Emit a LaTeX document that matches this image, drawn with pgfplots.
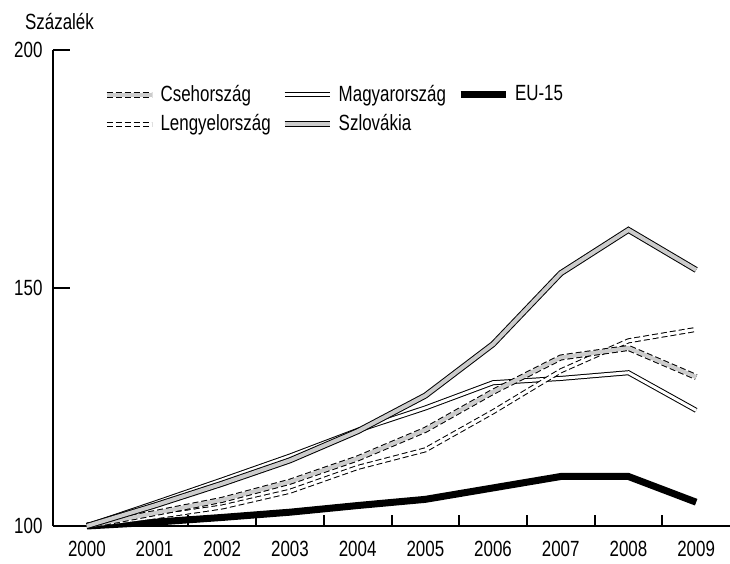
\documentclass[border=0pt]{standalone}
\usepackage{pgfplots}
\pgfplotsset{compat=1.18}
\usepackage{fontspec}
\setmainfont{Liberation Sans}[FakeStretch=0.77]
\definecolor{lgray}{HTML}{CCCCCC}
\begin{document}
\fontsize{22bp}{26bp}\selectfont
\begin{tikzpicture}
\path[use as bounding box] (-53bp,-38bp) rectangle (677bp,526bp);
\begin{axis}[
  at={(0bp,0bp)}, anchor=south west,
  scale only axis, width=677bp, height=476bp,
  xmin=1999.5, xmax=2009.5, ymin=100, ymax=200,
  axis lines=left, axis line style={line width=2bp, -},
  clip=false,
  tick align=inside,
  major tick length=17bp,
  minor tick length=11bp,
  every tick/.style={black, line width=2bp},
  ytick={100,150,200},
  xtick={2000,2001,2002,2003,2004,2005,2006,2007,2008,2009},
  major x tick style={draw=none},
  minor xtick={2000.5,2001.5,2002.5,2003.5,2004.5,2005.5,2006.5,2007.5,2008.5},
  minor x tick style={draw=black, line width=2bp},
  /pgf/number format/assume math mode=true,
  /pgf/number format/1000 sep={},
  xticklabel style={yshift=-8bp},
  yticklabel style={xshift=-3bp},
  legend columns=3,
  legend cell align=left,
  legend style={draw=none, fill=none, at={(axis cs:2000.2,193.5)}, anchor=north west,
    row sep=6bp,
    /tikz/every odd column/.append style={column sep=4bp},
    /tikz/every even column/.append style={column sep=9bp}},
]
\addlegendimage{legend image code/.code={
  \draw[black, line width=6bp, dash pattern=on 6bp off 3bp] (0bp,0bp) -- (45bp,0bp);
  \draw[lgray, line width=4bp] (0bp,0bp) -- (45bp,0bp);}}
\addlegendentry{Csehország}
\addlegendimage{legend image code/.code={
  \draw[black, line width=5bp] (0bp,0bp) -- (45bp,0bp);
  \draw[white, line width=3bp] (0bp,0bp) -- (45bp,0bp);}}
\addlegendentry{Magyarország}
\addlegendimage{legend image code/.code={
  \draw[black, line width=7bp] (0bp,0bp) -- (45bp,0bp);}}
\addlegendentry{EU-15}
\addlegendimage{legend image code/.code={
  \draw[black, line width=5bp, dash pattern=on 6bp off 3bp] (0bp,0bp) -- (45bp,0bp);
  \draw[white, line width=3bp] (0bp,0bp) -- (45bp,0bp);}}
\addlegendentry{Lengyelország}
\addlegendimage{legend image code/.code={
  \draw[black, line width=6bp] (0bp,0bp) -- (45bp,0bp);
  \draw[lgray, line width=4bp] (0bp,0bp) -- (45bp,0bp);}}
\addlegendentry{Szlovákia}

% EU-15
\addplot[forget plot, black, line width=7bp, line join=miter] coordinates {
 (2000,100) (2001,100.8) (2002,101.8) (2003,102.9) (2004,104.3) (2005,105.6) (2006,108.0) (2007,110.4) (2008,110.4) (2009,105.0)};
% Magyarorszag
\addplot[forget plot, black, line width=5bp] coordinates {
 (2000,100) (2001,104.8) (2002,109.7) (2003,114.7) (2004,120.1) (2005,124.8) (2006,130.1) (2007,131.0) (2008,132.2) (2009,124.3)};
\addplot[forget plot, white, line width=3bp] coordinates {
 (2000,100) (2001,104.8) (2002,109.7) (2003,114.7) (2004,120.1) (2005,124.8) (2006,130.1) (2007,131.0) (2008,132.2) (2009,124.3)};
% Lengyelorszag
\addplot[forget plot, black, line width=5bp, dash pattern=on 6bp off 3bp] coordinates {
 (2000,100) (2001,101.9) (2002,104.0) (2003,107.3) (2004,112.3) (2005,116.0) (2006,124.0) (2007,132.6) (2008,138.9) (2009,141.3)};
\addplot[forget plot, white, line width=3bp] coordinates {
 (2000,100) (2001,101.9) (2002,104.0) (2003,107.3) (2004,112.3) (2005,116.0) (2006,124.0) (2007,132.6) (2008,138.9) (2009,141.3)};
% Csehorszag
\addplot[forget plot, black, line width=6bp, dash pattern=on 6bp off 3bp] coordinates {
 (2000,100) (2001,102.7) (2002,105.5) (2003,109.3) (2004,114.2) (2005,120.2) (2006,128.2) (2007,135.4) (2008,137.4) (2009,131.3)};
\addplot[forget plot, lgray, line width=4bp] coordinates {
 (2000,100) (2001,102.7) (2002,105.5) (2003,109.3) (2004,114.2) (2005,120.2) (2006,128.2) (2007,135.4) (2008,137.4) (2009,131.3)};
% Szlovakia
\addplot[forget plot, black, line width=6bp] coordinates {
 (2000,100) (2001,104.3) (2002,108.9) (2003,113.8) (2004,119.9) (2005,127.4) (2006,138.2) (2007,153.1) (2008,162.2) (2009,153.8)};
\addplot[forget plot, lgray, line width=4bp] coordinates {
 (2000,100) (2001,104.3) (2002,108.9) (2003,113.8) (2004,119.9) (2005,127.4) (2006,138.2) (2007,153.1) (2008,162.2) (2009,153.8)};

\node at (rel axis cs:0,1) [xshift=6.5bp, yshift=28bp] {Százalék};
\end{axis}
\end{tikzpicture}
\end{document}
